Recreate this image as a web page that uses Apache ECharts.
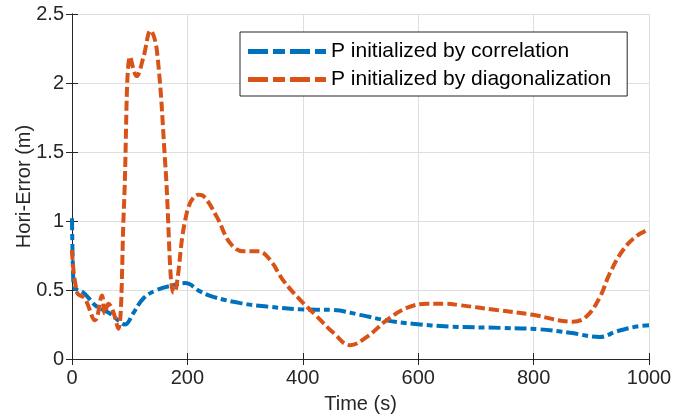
<!DOCTYPE html>
<html><head><meta charset="utf-8">
<script src="https://cdn.jsdelivr.net/npm/echarts@6/dist/echarts.min.js"></script>
<style>html,body{margin:0;padding:0;background:#fff}#c{width:692px;height:418px}</style>
</head><body><div id="c"></div>
<script>
var corrT = [0, 2, 4, 20, 43, 66, 80, 92, 106, 124, 147, 176, 196, 222, 245, 292, 338, 395, 453, 499, 545, 591, 655, 747, 811, 863, 915, 944, 978, 1000];
var corrV = [1.02, 0.6, 0.52, 0.48, 0.38, 0.33, 0.28, 0.25, 0.33, 0.44, 0.5, 0.535, 0.55, 0.49, 0.45, 0.405, 0.38, 0.36, 0.355, 0.32, 0.28, 0.255, 0.235, 0.225, 0.215, 0.19, 0.16, 0.2, 0.235, 0.245];
var diagT = [0, 9, 22, 40, 52, 57, 63, 70, 80, 90, 101, 112, 124, 136, 147, 162, 176, 180, 199, 219, 228, 251, 274, 297, 323, 343, 366, 395, 424, 453, 482, 511, 545, 580, 615, 649, 672, 736, 799, 868, 892, 915, 932, 955, 978, 1000];
var diagV = [0.79, 0.48, 0.44, 0.28, 0.46, 0.33, 0.4, 0.36, 0.22, 1.1, 2.19, 2.05, 2.19, 2.38, 2.24, 1.39, 0.48, 0.5, 1.06, 1.19, 1.18, 1.03, 0.84, 0.78, 0.78, 0.72, 0.57, 0.43, 0.31, 0.19, 0.10, 0.16, 0.28, 0.37, 0.40, 0.40, 0.39, 0.355, 0.32, 0.27, 0.31, 0.45, 0.62, 0.79, 0.89, 0.94];
var seriesNames = ['P initialized by correlation', 'P initialized by diagonalization'];
var xTicks = [0, 200, 400, 600, 800, 1000];
var yTicks = [0, 0.5, 1, 1.5, 2, 2.5];

function pairs(t, v) { return t.map(function (x, i) { return [x, v[i]]; }); }
var FONT = 'Arial, "Liberation Sans", Helvetica, sans-serif';
var axCol = '#262626';
var dashIcon = 'path://M0,0h20v5h-20z M25,0h12v5h-12z M42,0h20v5h-20z M67,0h11v5h-11z';
var chart = echarts.init(document.getElementById('c'));
chart.setOption({
  animation: false,
  backgroundColor: '#fff',
  grid: { left: 72, right: 43, top: 14, bottom: 59, containLabel: false, outerBoundsMode: 'none' },
  legend: {
    orient: 'vertical', left: 240, top: 32,
    padding: [9, 16, 6, 8], itemGap: 7,
    itemWidth: 78, itemHeight: 5,
    backgroundColor: '#fff', borderColor: axCol, borderWidth: 1, borderRadius: 0,
    textStyle: { fontFamily: FONT, fontSize: 21, color: '#000' },
    data: [{ name: seriesNames[0], icon: dashIcon }, { name: seriesNames[1], icon: dashIcon }]
  },
  xAxis: [{
    type: 'value', min: 0, max: 1000, interval: 200,
    name: 'Time (s)', nameLocation: 'middle', nameGap: 35, nameMoveOverlap: false,
    nameTextStyle: { fontFamily: FONT, fontSize: 20, color: axCol },
    axisLine: { show: true, lineStyle: { color: axCol, width: 1 } },
    axisTick: { show: true, inside: true, length: 6, lineStyle: { color: axCol } },
    axisLabel: { fontFamily: FONT, fontSize: 20, color: axCol, margin: 9, formatter: function (v) { return String(v); } },
    splitLine: { show: true, lineStyle: { color: '#dedede', width: 1 } }
  }, {
    type: 'value', min: 0, max: 1000, interval: 200, position: 'top',
    axisLine: { show: true, lineStyle: { color: axCol, width: 1 } },
    axisTick: { show: true, inside: true, length: 6, lineStyle: { color: axCol } },
    axisLabel: { show: false }, splitLine: { show: false }
  }],
  yAxis: [{
    type: 'value', min: 0, max: 2.5, interval: 0.5,
    name: 'Hori-Error (m)', nameLocation: 'middle', nameGap: 38, nameMoveOverlap: false,
    nameTextStyle: { fontFamily: FONT, fontSize: 20, color: axCol },
    axisLine: { show: true, lineStyle: { color: axCol, width: 1 } },
    axisTick: { show: true, inside: true, length: 6, lineStyle: { color: axCol } },
    axisLabel: { fontFamily: FONT, fontSize: 20, color: axCol, margin: 8, formatter: function (v) { return String(v); } },
    splitLine: { show: true, lineStyle: { color: '#dedede', width: 1 } }
  }, {
    type: 'value', min: 0, max: 2.5, interval: 0.5, position: 'right',
    axisLine: { show: true, lineStyle: { color: axCol, width: 1 } },
    axisTick: { show: true, inside: true, length: 6, lineStyle: { color: axCol } },
    axisLabel: { show: false }, splitLine: { show: false }
  }],
  series: [{
    name: seriesNames[0], type: 'line', data: pairs(corrT, corrV),
    smooth: 0.4, showSymbol: false, symbol: 'none',
    lineStyle: { color: '#0072BD', width: 4, type: [12, 4, 6, 4] },
    itemStyle: { color: '#0072BD' }
  }, {
    name: seriesNames[1], type: 'line', data: pairs(diagT, diagV),
    smooth: 0.4, showSymbol: false, symbol: 'none',
    lineStyle: { color: '#D95319', width: 4, type: [10, 4] },
    itemStyle: { color: '#D95319' }
  }]
});
</script></body></html>
